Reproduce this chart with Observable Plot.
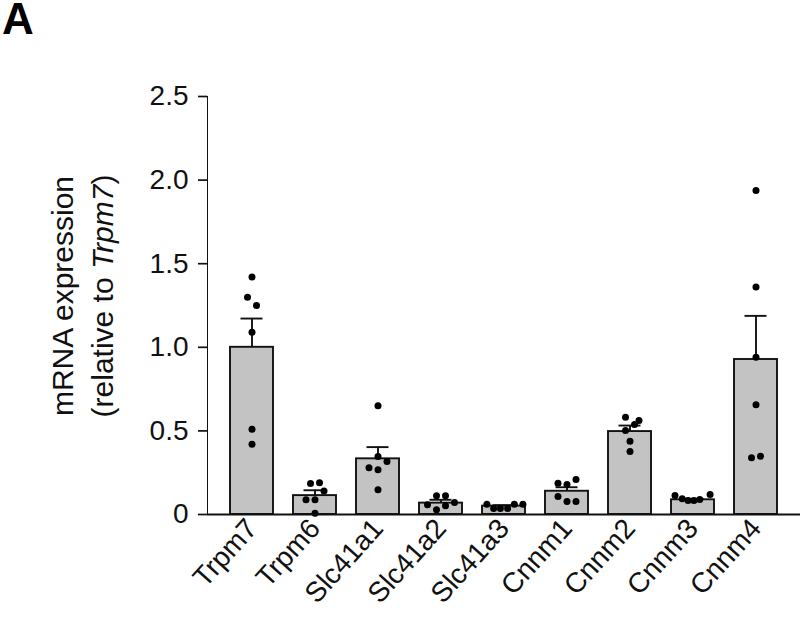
<!DOCTYPE html>
<html>
<head>
<meta charset="utf-8">
<script src="https://cdn.jsdelivr.net/npm/d3@7"></script>
<script src="https://cdn.jsdelivr.net/npm/@observablehq/plot@0.6"></script>
<style>
  html, body { margin: 0; padding: 0; background: #fff; }
  #chart { position: relative; width: 800px; height: 617px; }
</style>
</head>
<body>
<div id="chart"></div>
<script>
// Categories
const genes = ["Trpm7", "Trpm6", "Slc41a1", "Slc41a2", "Slc41a3", "Cnnm1", "Cnnm2", "Cnnm3", "Cnnm4"];
// Bar means and SEM (relative to Trpm7)
const means = [1.00, 0.113, 0.333, 0.068, 0.050, 0.139, 0.496, 0.088, 0.927];
const sems  = [0.172, 0.032, 0.070, 0.020, 0.006, 0.024, 0.036, 0.006, 0.261];
// Individual replicate values per gene
const trpm7   = [1.42, 1.30, 1.25, 1.09, 0.51, 0.42];
const trpm6   = [0.185, 0.19, 0.14, 0.088, 0.088, 0.008];
const slc41a1 = [0.65, 0.347, 0.317, 0.279, 0.267, 0.148];
const slc41a2 = [0.112, 0.112, 0.058, 0.028, 0.052, 0.072];
const slc41a3 = [0.062, 0.036, 0.036, 0.036, 0.062, 0.062];
const cnnm1   = [0.187, 0.179, 0.209, 0.108, 0.078, 0.078];
const cnnm2   = [0.582, 0.562, 0.538, 0.502, 0.438, 0.377];
const cnnm3   = [0.114, 0.094, 0.084, 0.084, 0.090, 0.120];
const cnnm4   = [1.938, 1.36, 0.941, 0.656, 0.339, 0.349];
// Scatter jitter (in dot-spacing units) as in the column scatter layout
const jitTrpm7   = [0, -0.5, 0.5, 0, 0, 0];
const jitTrpm6   = [-0.5, 0.5, 1, -1, 0, 0];
const jitSlc41a1 = [0, 0, 1, -1, 0, 0];
const jitSlc41a2 = [-0.5, 0.5, -1.5, -0.5, 0.5, 1.5];
const jitSlc41a3 = [-1.9, -1.15, -0.4, 0.4, 1.15, 2.1];
const jitCnnm1   = [-1, 0, 1, -1, 0, 1];
const jitCnnm2   = [-0.5, 1, 0.5, -0.5, 0, 0];
const jitCnnm3   = [-2, -1.2, -0.55, 0.1, 0.75, 1.9];
const jitCnnm4   = [0, 0, 0, 0, -0.5, 0.5];
// Y ticks
const yTicks = [0, 0.5, 1.0, 1.5, 2.0, 2.5];

const replicateValues = [trpm7, trpm6, slc41a1, slc41a2, slc41a3, cnnm1, cnnm2, cnnm3, cnnm4];
const replicateJitter = [jitTrpm7, jitTrpm6, jitSlc41a1, jitSlc41a2, jitSlc41a3, jitCnnm1, jitCnnm2, jitCnnm3, jitCnnm4];

const summary = genes.map((g, i) => ({gene: g, mean: means[i], sem: sems[i]}));
const dots = genes.flatMap((g, i) => replicateValues[i].map((v, k) => ({gene: g, value: v, j: replicateJitter[i][k]})));

const FONT = "'Liberation Sans', Arial, Helvetica, sans-serif";
const INK = "#111";
const UNIT = 9; // px per jitter unit

const dotMarks = d3.groups(dots, d => d.j).map(([j, g]) =>
  Plot.dot(g, {x: "gene", y: "value", dx: j * UNIT, r: 3.5, fill: "#000", stroke: "none"})
);

const plot = Plot.plot({
  width: 800,
  height: 617,
  marginLeft: 207,
  marginRight: 0,
  marginTop: 96,
  marginBottom: 103,
  style: {fontFamily: FONT, fontSize: "28px", color: INK, background: "white"},
  x: {
    domain: genes,
    paddingInner: 0.317,
    paddingOuter: 0.35,
    label: null,
    tickSize: 0,
    tickRotate: -48,
    tickPadding: 9
  },
  y: {
    domain: [0, 2.5],
    ticks: yTicks,
    tickFormat: d => d === 0 ? "0" : d.toFixed(1),
    tickSize: 9,
    tickPadding: 10,
    label: null,
    line: true
  },
  marks: [
    Plot.barY(summary, {x: "gene", y: "mean", fill: "#c3c3c3", stroke: INK, strokeWidth: 1.9}),
    Plot.ruleX(summary, {x: "gene", y1: "mean", y2: d => d.mean + d.sem, stroke: INK, strokeWidth: 1.9}),
    Plot.tickY(summary, {x: "gene", y: d => d.mean + d.sem, stroke: INK, strokeWidth: 1.9, insetLeft: 10.5, insetRight: 10.5}),
    ...dotMarks,
    Plot.ruleY([0], {stroke: INK, strokeWidth: 1.9})
  ]
});

const svg = d3.select(plot);
svg.selectAll("[aria-label^='y-axis'] path, [aria-label^='y-axis'] line").attr("stroke-width", 1.7);

// Y axis title (two lines, Trpm7 in italics)
const yTitle = svg.append("text")
  .attr("transform", "translate(73,296) rotate(-90)")
  .attr("text-anchor", "middle")
  .attr("font-family", FONT)
  .attr("font-size", 30)
  .attr("fill", INK);
yTitle.append("tspan").attr("x", 0).attr("dy", 0).text("mRNA expression");
yTitle.append("tspan").attr("x", 0).attr("dy", 40).text("(relative to ");
yTitle.append("tspan").attr("font-style", "italic").text("Trpm7");
yTitle.append("tspan").text(")");

// Panel letter
svg.append("text")
  .attr("x", 2).attr("y", 34)
  .attr("text-anchor", "start")
  .attr("font-family", FONT)
  .attr("font-weight", "bold")
  .attr("font-size", 44)
  .attr("fill", "#000")
  .text("A");

document.getElementById("chart").appendChild(plot);
</script>
</body>
</html>
